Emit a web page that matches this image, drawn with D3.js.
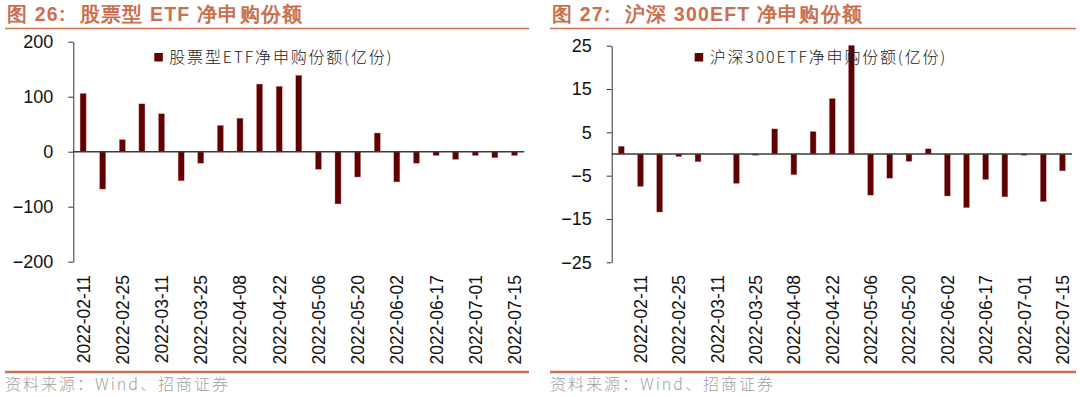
<!DOCTYPE html>
<html>
<head>
<meta charset="utf-8">
<script src="https://cdn.jsdelivr.net/npm/d3@7"></script>
<style>
  body { margin: 0; background: #fff; }
  svg { display: block; font-family: "Liberation Sans", Arial, sans-serif; }
</style>
</head>
<body>
<div id="chart"></div>
<script>
var WIDTH = 1080;
var HEIGHT = 397;
var BAR_COLOR = "#600000";
var ACCENT = "#c8704f";

// 股票型ETF净申购份额(亿份), weekly
var etfDates = ["2022-02-11", "2022-02-18", "2022-02-25", "2022-03-04", "2022-03-11",
  "2022-03-18", "2022-03-25", "2022-04-01", "2022-04-08", "2022-04-15", "2022-04-22",
  "2022-04-29", "2022-05-06", "2022-05-13", "2022-05-20", "2022-05-27", "2022-06-02",
  "2022-06-10", "2022-06-17", "2022-06-24", "2022-07-01", "2022-07-08", "2022-07-15"];
var etfValues = [106, -68, 22, 87, 69, -53, -21, 48, 61, 123, 119, 139, -32, -95, -46,
  34, -55, -21, -7, -14, -7, -11, -7];
var etfTicks = [200, 100, 0, -100, -200];

// 沪深300ETF净申购份额(亿份), weekly
var hsDates = ["2022-01-28", "2022-02-11", "2022-02-18", "2022-02-25", "2022-03-04",
  "2022-03-11", "2022-03-18", "2022-03-25", "2022-04-01", "2022-04-08", "2022-04-15",
  "2022-04-22", "2022-04-29", "2022-05-06", "2022-05-13", "2022-05-20", "2022-05-27",
  "2022-06-02", "2022-06-10", "2022-06-17", "2022-06-24", "2022-07-01", "2022-07-08",
  "2022-07-15"];
var hsValues = [1.8, -7.5, -13.4, -0.6, -1.8, 0, -6.8, -0.3, 5.8, -4.8, 5.2, 12.8, 25.1,
  -9.5, -5.6, -1.7, 1.2, -9.7, -12.4, -5.9, -9.9, -0.3, -11, -3.9];
var hsTicks = [25, 15, 5, -5, -15, -25];

var svg = d3.select("#chart").append("svg")
  .attr("width", WIDTH)
  .attr("height", HEIGHT);

function drawPanel(opt) {
  var g = svg.append("g");

  // title + rule under it
  g.append("text")
    .attr("x", opt.left + 2)
    .attr("y", 21)
    .style("font-size", "19.5px")
    .style("font-weight", "bold")
    .style("letter-spacing", "1.2px")
    .style("white-space", "pre")
    .style("fill", ACCENT)
    .text("图 " + opt.title);
  g.append("line")
    .attr("x1", opt.left).attr("x2", opt.right)
    .attr("y1", 28.5).attr("y2", 28.5)
    .style("stroke", ACCENT).style("stroke-width", 1.6);

  // source line + note
  g.append("line")
    .attr("x1", opt.left).attr("x2", opt.right)
    .attr("y1", 372).attr("y2", 372)
    .style("stroke", ACCENT).style("stroke-width", 2.4);
  g.append("text")
    .attr("x", opt.left)
    .attr("y", 390)
    .style("font-size", "16px")
    .style("letter-spacing", "2px")
    .style("font-family", "'Noto Sans CJK SC', sans-serif")
    .style("font-weight", "300")
    .style("fill", "#a0a0a0")
    .text("资料来源：Wind、招商证券");

  var x = d3.scaleBand()
    .domain(opt.dates)
    .range([opt.plotX0, opt.plotX1])
    .paddingInner(0.69)
    .paddingOuter(0.345);
  var y = d3.scaleLinear()
    .domain([opt.ticks[opt.ticks.length - 1], opt.ticks[0]])
    .range([opt.plotY1, opt.plotY0]);

  // y axis
  var yAxis = g.append("g")
    .attr("transform", "translate(" + opt.plotX0 + ",0)")
    .call(d3.axisLeft(y).tickValues(opt.ticks).tickSize(5).tickPadding(15).tickSizeOuter(0));
  yAxis.select(".domain").style("stroke", "#333");
  yAxis.selectAll(".tick line").style("stroke", "#333");
  yAxis.selectAll(".tick text")
    .style("font-size", "18px")
    .style("font-family", "'Liberation Sans', Arial, sans-serif")
    .style("fill", "#111");

  // bars
  g.selectAll(".bar")
    .data(opt.values)
    .enter()
    .append("rect")
    .attr("class", "bar")
    .attr("x", function(d, i) { return x(opt.dates[i]); })
    .attr("width", x.bandwidth())
    .attr("y", function(d) { return y(Math.max(0, d)); })
    .attr("height", function(d) { return Math.abs(y(d) - y(0)); })
    .style("fill", BAR_COLOR)
    .style("stroke", "#c99a9a")
    .style("stroke-width", 0.4);

  // zero line
  g.append("line")
    .attr("x1", opt.plotX0).attr("x2", opt.plotX1)
    .attr("y1", y(0)).attr("y2", y(0))
    .style("stroke", "#3a3a3a").style("stroke-width", 1.4);

  // x labels (every other week), rotated
  var labels = opt.dates.filter(function(d, i) { return i % 2 === opt.labelOffset; });
  g.selectAll(".xlab")
    .data(labels)
    .enter()
    .append("text")
    .attr("class", "xlab")
    .attr("transform", function(d) {
      return "translate(" + (x(d) + x.bandwidth() / 2 + 6.5) + ",275) rotate(-90)";
    })
    .attr("text-anchor", "end")
    .style("font-size", "17.5px")
    .style("fill", "#111")
    .text(function(d) { return d; });

  // legend
  var lg = g.append("g")
    .attr("transform", "translate(" + (opt.plotX0 + opt.legendDx) + ",53)");
  lg.append("rect")
    .attr("width", 8.5).attr("height", 8.5)
    .style("fill", BAR_COLOR);
  lg.append("text")
    .attr("x", 15)
    .attr("y", 10)
    .style("font-size", "16px")
    .style("letter-spacing", "1.8px")
    .style("font-family", "'Noto Sans CJK SC', sans-serif")
    .style("font-weight", "300")
    .style("fill", "#222")
    .text(opt.legend);
}

drawPanel({
  title: "26:  股票型 ETF 净申购份额",
  legend: "股票型ETF净申购份额(亿份)",
  left: 5, right: 529,
  plotX0: 73.3, plotX1: 524.3, plotY0: 41.7, plotY1: 261.7,
  dates: etfDates, values: etfValues, ticks: etfTicks,
  labelOffset: 0, legendDx: 81
});

drawPanel({
  title: "27:  沪深 300EFT 净申购份额",
  legend: "沪深300ETF净申购份额(亿份)",
  left: 550, right: 1076,
  plotX0: 611.7, plotX1: 1072, plotY0: 45.7, plotY1: 262.3,
  dates: hsDates, values: hsValues, ticks: hsTicks,
  labelOffset: 1, legendDx: 83
});
</script>
</body>
</html>
